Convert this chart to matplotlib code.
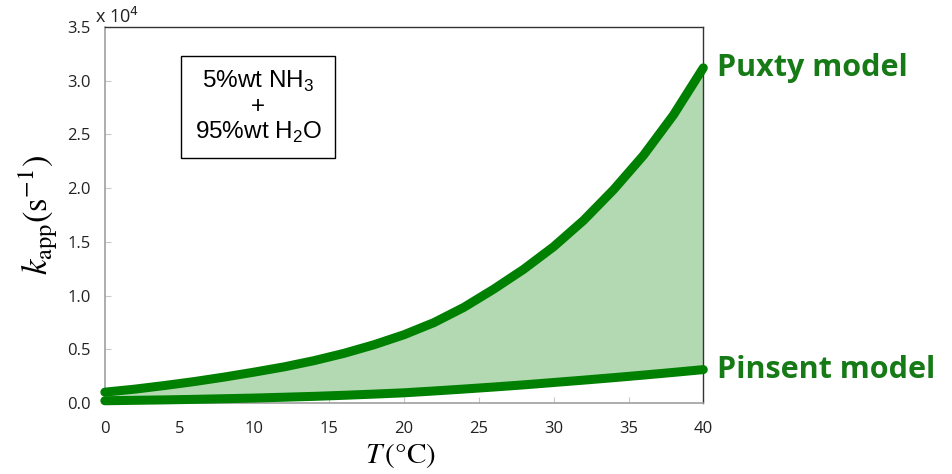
import numpy as np
import matplotlib
matplotlib.use('Agg')
import matplotlib.pyplot as plt

# temperature (deg C) and apparent rate constants (units of 1e4 s^-1)
temp = [0, 2, 4, 6, 8, 10, 12, 14, 16, 18, 20, 22, 24, 26, 28, 30, 32, 34, 36, 38, 40]
puxty = [0.100, 0.128, 0.162, 0.199, 0.241, 0.287, 0.336, 0.394, 0.462, 0.542, 0.635,
         0.748, 0.890, 1.060, 1.245, 1.455, 1.700, 1.985, 2.305, 2.680, 3.120]
pinsent = [0.020, 0.024, 0.028, 0.033, 0.039, 0.045, 0.053, 0.061, 0.071, 0.082, 0.094,
           0.111, 0.129, 0.148, 0.168, 0.190, 0.212, 0.235, 0.259, 0.284, 0.310]

xticks = [0, 5, 10, 15, 20, 25, 30, 35, 40]
yticks = [0.0, 0.5, 1.0, 1.5, 2.0, 2.5, 3.0, 3.5]

line_col = '#008000'
text_col = '#167a16'

plt.rcParams['mathtext.fontset'] = 'stix'
plt.rcParams['mathtext.rm'] = 'Liberation Sans'

fig = plt.figure(figsize=(9.53, 4.74), dpi=100)
ax = fig.add_axes([0.110, 0.150, 0.628, 0.793])

ax.fill_between(temp, pinsent, puxty, color='#b3d9b3', lw=0, zorder=1)
ax.plot(temp, puxty, color=line_col, lw=6.5, solid_capstyle='round',
        solid_joinstyle='round', zorder=3, clip_on=False)
ax.plot(temp, pinsent, color=line_col, lw=6.5, solid_capstyle='round',
        solid_joinstyle='round', zorder=3, clip_on=False)

ax.set_xlim(0, 40)
ax.set_ylim(0, 3.5)
ax.set_xticks(xticks)
ax.set_yticks(yticks)
ax.set_yticklabels(['%.1f' % v for v in yticks])
ax.tick_params(direction='in', length=4, color='#c8c8c8', labelsize=12,
               labelcolor='#222222')
ax.tick_params(axis='x', pad=13)
ax.tick_params(axis='y', pad=10)
for lab in ax.get_xticklabels() + ax.get_yticklabels():
    lab.set_family('Open Sans')

for s in ['left', 'bottom']:
    ax.spines[s].set_color('#a0a0a0')
    ax.spines[s].set_linewidth(1.2)
for s in ['top', 'right']:
    ax.spines[s].set_color('#333333')
    ax.spines[s].set_linewidth(1.0)

ax.set_ylabel(r'$k_{\mathrm{app}}(\mathrm{s}^{-1})$', fontsize=25, labelpad=6)
ax.yaxis.label.set_math_fontfamily('stix')
ax.set_xlabel(r'$T\,(\degree\mathrm{C})$', fontsize=21)
ax.xaxis.label.set_math_fontfamily('stix')
ax.xaxis.set_label_coords(0.493, -0.102)

ax.text(-0.017, 1.0, r'x 10$^4$', transform=ax.transAxes, ha='left', va='bottom',
        fontsize=13, family='Open Sans', color='#222222', math_fontfamily='dejavusans')

ax.text(0.256, 0.787, '5%wt NH$_3$\n+\n95%wt H$_2$O', transform=ax.transAxes,
        ha='center', va='center', fontsize=17.5, family='Liberation Sans',
        linespacing=1.1, math_fontfamily='custom',
        bbox=dict(boxstyle='square,pad=0.55', fc='white', ec='black', lw=1))

ax.annotate('Puxty model', xy=(temp[-1], puxty[-1]), xytext=(10, 0),
            textcoords='offset points', va='center', ha='left', fontsize=22,
            fontweight='bold', color=text_col, family='Open Sans', annotation_clip=False)
ax.annotate('Pinsent model', xy=(temp[-1], pinsent[-1]), xytext=(10, 0),
            textcoords='offset points', va='center', ha='left', fontsize=22,
            fontweight='bold', color=text_col, family='Open Sans', annotation_clip=False)

fig.savefig('out.png', dpi=100)
